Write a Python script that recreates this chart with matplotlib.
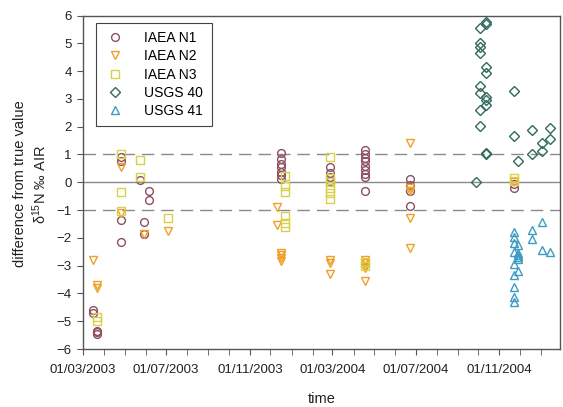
import matplotlib
matplotlib.use("Agg")
import matplotlib.pyplot as plt
import matplotlib.dates as mdates
import numpy as np
from datetime import datetime

plt.rcParams['font.family'] = ['Liberation Sans', 'DejaVu Sans']
plt.rcParams['mathtext.fontset'] = 'custom'
plt.rcParams['mathtext.rm'] = 'Liberation Sans'
plt.rcParams['mathtext.it'] = 'Liberation Sans:italic'

# ---------------- data ----------------
n1_dates = ["2003-03-15", "2003-03-15", "2003-03-22", "2003-03-22", "2003-03-22",
            "2003-04-26", "2003-04-26", "2003-04-26", "2003-04-26",
            "2003-05-23", "2003-05-30", "2003-05-30", "2003-06-06", "2003-06-06",
            "2003-12-16", "2003-12-16", "2003-12-16", "2003-12-16", "2003-12-16", "2003-12-16", "2003-12-16",
            "2004-02-27", "2004-02-27", "2004-02-27", "2004-02-27",
            "2004-04-18", "2004-04-18", "2004-04-18", "2004-04-18", "2004-04-18", "2004-04-18", "2004-04-18", "2004-04-18", "2004-04-18",
            "2004-06-23", "2004-06-23", "2004-06-23", "2004-06-23",
            "2004-11-23", "2004-11-23"]
n1_vals = [-4.6, -4.7, -5.35, -5.4, -5.45,
           0.9, 0.75, -1.35, -2.15,
           0.08, -1.42, -1.87, -0.3, -0.63,
           1.05, 0.85, 0.67, 0.55, 0.37, 0.25, 0.13,
           0.55, 0.35, 0.2, 0.05,
           1.15, 1.0, 0.88, 0.75, 0.6, 0.45, 0.3, 0.2, -0.32,
           0.1, -0.1, -0.3, -0.85,
           -0.05, -0.2]

n2_dates = ["2003-03-15", "2003-03-22", "2003-03-22",
            "2003-04-26", "2003-04-26", "2003-05-30", "2003-07-04",
            "2003-12-10", "2003-12-10", "2003-12-16", "2003-12-16", "2003-12-16", "2003-12-16",
            "2004-02-27", "2004-02-27", "2004-02-27",
            "2004-04-18", "2004-04-18", "2004-04-18", "2004-04-18", "2004-04-18",
            "2004-06-23", "2004-06-23", "2004-06-23", "2004-06-23", "2004-06-23",
            "2004-11-23"]
n2_vals = [-2.8, -3.7, -3.8,
           0.55, -1.1, -1.88, -1.75,
           -0.9, -1.55, -2.55, -2.62, -2.72, -2.82,
           -2.8, -2.92, -3.3,
           -2.8, -2.9, -3.0, -3.1, -3.55,
           1.42, -0.2, -0.32, -1.3, -2.35,
           0.02]

n3_dates = ["2003-03-22", "2003-03-22",
            "2003-04-26", "2003-04-26", "2003-04-26",
            "2003-05-23", "2003-05-23", "2003-07-04",
            "2003-12-23", "2003-12-23", "2003-12-23", "2003-12-23", "2003-12-23", "2003-12-23",
            "2004-02-27", "2004-02-27", "2004-02-27", "2004-02-27", "2004-02-27", "2004-02-27",
            "2004-04-18", "2004-04-18",
            "2004-11-23", "2004-11-23"]
n3_vals = [-4.85, -5.0,
           1.0, -0.35, -1.05,
           0.8, 0.2, -1.3,
           0.22, -0.12, -0.35, -1.2, -1.45, -1.62,
           0.9, 0.15, 0.0, -0.2, -0.4, -0.6,
           -2.88, -3.0,
           0.15, 0.05]

u40_dates = ["2004-09-27",
             "2004-10-04", "2004-10-04", "2004-10-04", "2004-10-04", "2004-10-04", "2004-10-04", "2004-10-04", "2004-10-04",
             "2004-10-13", "2004-10-13", "2004-10-13", "2004-10-13", "2004-10-13", "2004-10-13", "2004-10-13", "2004-10-13", "2004-10-13",
             "2004-11-23", "2004-11-23", "2004-11-29",
             "2004-12-19", "2004-12-19", "2005-01-03", "2005-01-03", "2005-01-15", "2005-01-15"]
u40_vals = [0.0,
            5.55, 5.0, 4.88, 4.65, 3.45, 3.22, 2.6, 2.02,
            5.75, 5.68, 4.15, 3.92, 3.05, 2.95, 2.78, 1.05, 1.0,
            3.3, 1.65, 0.76,
            1.88, 1.0, 1.4, 1.14, 1.96, 1.54]

u41_dates = ["2004-11-23", "2004-11-23", "2004-11-23", "2004-11-23", "2004-11-23", "2004-11-23", "2004-11-23", "2004-11-23", "2004-11-23",
             "2004-11-28", "2004-11-28", "2004-11-28", "2004-11-28", "2004-11-28", "2004-11-28",
             "2004-12-19", "2004-12-19", "2005-01-03", "2005-01-03", "2005-01-15"]
u41_vals = [-1.8, -1.97, -2.2, -2.5, -2.95, -3.35, -3.78, -4.14, -4.32,
            -2.27, -2.55, -2.62, -2.7, -2.75, -3.18,
            -1.71, -2.03, -1.43, -2.45, -2.52]

series = [
    ("IAEA N1", n1_dates, n1_vals, "o", "#8c5060"),
    ("IAEA N2", n2_dates, n2_vals, "v", "#f0a028"),
    ("IAEA N3", n3_dates, n3_vals, "s", "#d8d048"),
    ("USGS 40", u40_dates, u40_vals, "D", "#2f6a5c"),
    ("USGS 41", u41_dates, u41_vals, "^", "#3c9cc4"),
]

x_min = datetime(2003, 3, 1)
x_max = datetime(2005, 1, 29)
y_ticks = list(range(-6, 7))

# ---------------- plot ----------------
fig = plt.figure(figsize=(5.63, 4.07), dpi=100)
ax = fig.add_axes([83 / 563, 1 - 349 / 407, (560 - 83) / 563, (349 - 15.5) / 407])

ax.axhline(0, color="#8a8a8a", lw=1.0, zorder=1)
for yv in (1, -1):
    ax.axhline(yv, color="#8a8a8a", lw=1.0, dashes=(9, 5), zorder=1)

for name, d, v, m, c in series:
    dd = [datetime.strptime(s, "%Y-%m-%d") for s in d]
    ms = 5.6 if m != "D" else 5.0
    ax.plot(dd, v, linestyle="none", marker=m, markersize=ms, markerfacecolor="none",
            markeredgecolor=c, markeredgewidth=1.0, label=name, zorder=3)

ax.set_xlim(x_min, x_max)
ax.set_ylim(-6, 6)
ax.set_yticks(y_ticks)
ax.xaxis.set_major_locator(mdates.MonthLocator(bymonth=[3, 7, 11], bymonthday=1))
ax.xaxis.set_minor_locator(mdates.MonthLocator(bymonthday=1))
ax.xaxis.set_major_formatter(mdates.DateFormatter("%d/%m/%Y"))

for sp in ax.spines.values():
    sp.set_color("#555555")
    sp.set_linewidth(1.0)
ax.tick_params(axis="both", which="both", direction="out", color="#555555", labelsize=9.5,
               labelcolor="#222222")
ax.tick_params(axis="x", which="major", length=4, pad=7)
ax.tick_params(axis="x", which="minor", length=4)
ax.tick_params(axis="y", length=4, pad=4)

ax.set_xlabel("time", fontsize=10.5, labelpad=11, color="#222222")

fig.text(20 / 563, 1 - 184 / 407, "difference from true value", rotation=90,
         ha="center", va="center", fontsize=10.5, color="#222222")
fig.text(40 / 563, 1 - 184 / 407, r"$\mathregular{\delta^{15}}$N ‰ AIR", rotation=90,
         ha="center", va="center", fontsize=10.5, color="#222222")

leg = ax.legend(loc="upper left", bbox_to_anchor=(0.027, 0.978), fontsize=10,
                frameon=True, fancybox=False, edgecolor="#444444", framealpha=1,
                handletextpad=1.3, borderpad=0.6, labelspacing=0.3, handlelength=1.6,
                borderaxespad=0)
leg.get_frame().set_linewidth(0.8)

fig.savefig("out.png", dpi=100)
